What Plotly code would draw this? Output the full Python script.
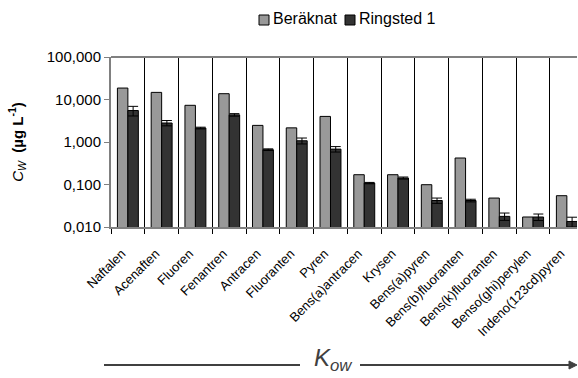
import plotly.graph_objects as go

# PAH compounds, ordered by increasing Kow
compounds = [
    "Naftalen", "Acenaften", "Fluoren", "Fenantren", "Antracen",
    "Fluoranten", "Pyren", "Bens(a)antracen", "Krysen", "Bens(a)pyren",
    "Bens(b)fluoranten", "Bens(k)fluoranten", "Benso(ghi)perylen",
    "Indeno(123cd)pyren",
]

# Calculated water concentrations (µg/L)
beraknat = [18.6, 14.7, 7.3, 13.7, 2.46, 2.15, 4.0, 0.17, 0.17, 0.099,
            0.42, 0.048, 0.0172, 0.0545]

# Measured, Ringsted 1 (µg/L) with error
ringsted = [5.5, 2.8, 2.13, 4.35, 0.66, 1.07, 0.68, 0.108, 0.142, 0.042,
            0.042, 0.0178, 0.0172, 0.0135]
ringsted_err = [1.4, 0.4, 0.1, 0.3, 0.03, 0.17, 0.1, 0.004, 0.008, 0.006,
                0.003, 0.0035, 0.003, 0.0035]

y_tickvals = [0.01, 0.1, 1, 10, 100]
y_ticktext = ["0,010", "0,100", "1,000", "10,000", "100,000"]

series_names = ["Beräknat", "Ringsted 1"]
series_colors = ["#999999", "#333333"]

FONT = "Liberation Sans, Arial, sans-serif"

fig = go.Figure()
fig.add_trace(go.Bar(
    x=compounds, y=beraknat, name=series_names[0],
    marker=dict(color=series_colors[0], line=dict(color="#000000", width=1)),
))
fig.add_trace(go.Bar(
    x=compounds, y=ringsted, name=series_names[1],
    marker=dict(color=series_colors[1], line=dict(color="#000000", width=1)),
    error_y=dict(type="data", array=ringsted_err, symmetric=True,
                 color="#000000", thickness=1, width=5),
))

# plot area in pixels
L, R, T, B = 111, 577, 57, 227
W, H = 578, 378
pw, ph = R - L, B - T


def px(x):
    return (x - L) / pw


def py(y):
    return (B - y) / ph


fig.update_layout(
    width=W, height=H,
    margin=dict(l=L, r=W - R, t=T, b=H - B),
    paper_bgcolor="white", plot_bgcolor="white",
    barmode="group", bargap=0.38, bargroupgap=0,
    font=dict(family=FONT, size=15, color="#000000"),
    showlegend=False,
    xaxis=dict(
        type="category", range=[-0.5, 13.3],
        tickson="boundaries", showgrid=True, gridcolor="#000000", gridwidth=1,
        ticks="outside", ticklen=5, tickcolor="#000000",
        showline=True, linecolor="#808080", linewidth=2,
        tickangle=-45, tickfont=dict(size=13, color="#000000"),
        ticklabelshift=-6, ticklabelstandoff=12,
    ),
    yaxis=dict(
        type="log", range=[-2, 2],
        tickvals=y_tickvals, ticktext=y_ticktext,
        showgrid=False, zeroline=False,
        ticks="outside", ticklen=5, tickcolor="#808080",
        showline=True, linecolor="#808080", linewidth=2,
        tickfont=dict(size=15, color="#000000"),
        title=dict(text="<i>C<sub>W</sub></i>  <b>(µg L<sup>-1</sup>)</b>",
                   font=dict(size=15, color="#000000"), standoff=20),
    ),
)

# top border of the plot area
fig.add_shape(type="line", xref="paper", yref="paper", x0=0, x1=1, y0=1, y1=1,
              line=dict(color="#808080", width=2))

# compact legend drawn as squares + labels
legend_x = [259, 345]
for name, col, lx in zip(series_names, series_colors, legend_x):
    fig.add_shape(type="rect", xref="paper", yref="paper",
                  x0=px(lx), x1=px(lx + 10), y0=py(25), y1=py(15),
                  fillcolor=col, line=dict(color="#000000", width=1))
    fig.add_annotation(xref="paper", yref="paper", x=px(lx + 12), y=py(18.5),
                       text=name, showarrow=False, xanchor="left",
                       yanchor="middle", font=dict(size=16, color="#000000"))

# Kow arrow under the category labels
ay = py(365)
arrow_col = "#404040"
fig.add_shape(type="line", xref="paper", yref="paper",
              x0=px(104), x1=px(300), y0=ay, y1=ay,
              line=dict(color=arrow_col, width=2))
fig.add_shape(type="line", xref="paper", yref="paper",
              x0=px(360), x1=px(570), y0=ay, y1=ay,
              line=dict(color=arrow_col, width=2))
fig.add_shape(type="path", xref="paper", yref="paper",
              path=f"M {px(569)},{py(361)} L {px(577)},{ay} L {px(569)},{py(369)} Z",
              fillcolor=arrow_col, line=dict(color=arrow_col, width=1))
fig.add_annotation(xref="paper", yref="paper", x=px(333), y=py(359),
                   text="<i>K<sub>ow</sub></i>", showarrow=False,
                   font=dict(size=24, color="#404040"),
                   xanchor="center", yanchor="middle")

fig.write_html("out.html")
